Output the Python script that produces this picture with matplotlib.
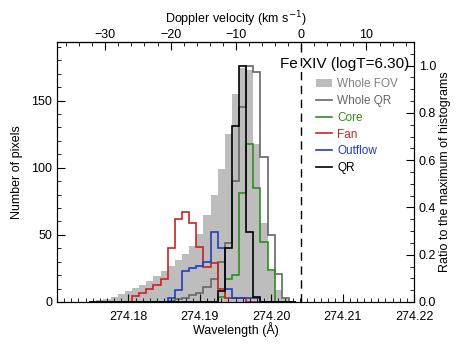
import numpy as np
import matplotlib
matplotlib.use('Agg')
import matplotlib.pyplot as plt
from matplotlib.patches import Patch
from matplotlib.lines import Line2D
from matplotlib.ticker import MultipleLocator

plt.rcParams['font.family'] = ['Liberation Sans', 'DejaVu Sans']
plt.rcParams['font.size'] = 9

# histogram bins (Angstrom): first bin starts at 274.1745, width 0.001
bin_start = 274.1745
bin_width = 0.001
rest_wave = 274.2042  # zero Doppler velocity
c_kms = 299792.458

# counts per bin, first bin = 274.175
whole_fov = [1, 1.5, 2.5, 4, 6, 8, 10.5, 13, 16, 19, 23, 27, 31, 36, 42, 51, 65, 80, 99,
             125, 155, 174, 173, 118, 59, 23, 9, 2, 0.5]
whole_qr = [0, 0, 0, 0, 0, 0, 0, 0, 0, 0, 0, 1, 2, 3, 5, 7, 11, 17, 30,
            44, 90, 145, 176, 171, 108, 50, 21, 3, 0]
core = [0, 0, 0, 0, 0, 0, 0, 0, 0, 0, 0, 0, 0, 0, 0, 0, 0, 0, 4,
        17, 20, 81, 118, 85, 45, 24, 0, 0, 0]
fan = [0, 0, 0, 0, 0, 0, 4.5, 7, 9.5, 13, 17, 40, 62, 67, 59, 41, 26, 29, 10,
       3, 3, 3, 0, 0, 0, 0, 0, 0, 0]
outflow = [0, 0, 0, 0, 0, 0, 0, 0, 0, 0, 0, 3, 9, 23, 25, 27, 30, 52, 40,
           10, 3, 3, 3, 3, 0, 0, 0, 0, 0]
qr = [0, 0, 0, 0, 0, 0, 0, 0, 0, 0, 0, 0, 0, 0, 0, 0, 0, 0, 8,
      40, 131, 176, 52, 4, 0, 0, 0, 0, 0]

edges = bin_start + bin_width * np.arange(len(whole_fov) + 1)
ymax = 1.1 * max(max(whole_fov), max(whole_qr), max(qr))

fig = plt.figure(figsize=(4.58, 3.44), dpi=100)
ax = fig.add_axes([57 / 458, 1 - 302 / 344, 357 / 458, 260 / 344])

ax.stairs(whole_fov, edges, fill=True, color='#bdbdbd', lw=0)
ax.stairs(whole_qr, edges, color='#666666', lw=1.2)
ax.stairs(core, edges, color='#2f8f1c', lw=1.2)
ax.stairs(fan, edges, color='#cc2222', lw=1.2)
ax.stairs(outflow, edges, color='#1f3fbf', lw=1.2)
ax.stairs(qr, edges, color='black', lw=1.2)
ax.axvline(rest_wave, color='black', ls=(0, (6, 4)), lw=1)

ax.set_xlim(274.17, 274.22)
ax.set_ylim(0, ymax)
ax.set_xticks([274.18, 274.19, 274.20, 274.21, 274.22])
ax.set_xticklabels(['274.18', '274.19', '274.20', '274.21', '274.22'])
ax.xaxis.set_minor_locator(MultipleLocator(0.001))
ax.yaxis.set_major_locator(MultipleLocator(50))
ax.yaxis.set_minor_locator(MultipleLocator(10))
ax.set_xlabel('Wavelength (Å)', labelpad=-1)
ax.set_ylabel('Number of pixels', labelpad=6)
ax.tick_params(which='both', direction='in', top=False, right=False)
ax.tick_params(which='major', length=6)
ax.tick_params(which='minor', length=3)
ax.tick_params(axis='x', which='both', pad=6.5)

# right axis: ratio to maximum
ax2 = ax.twinx()
ax2.set_ylim(0, ymax / max(whole_qr))
ax2.yaxis.set_major_locator(MultipleLocator(0.2))
ax2.yaxis.set_minor_locator(MultipleLocator(0.05))
ax2.yaxis.set_major_formatter(matplotlib.ticker.FormatStrFormatter('%.1f'))
ax2.set_ylabel('Ratio to the maximum of histograms', labelpad=2)
ax2.tick_params(which='both', direction='in')
ax2.tick_params(which='major', length=6)
ax2.tick_params(which='minor', length=3)

# top axis: Doppler velocity
top = ax.secondary_xaxis('top', functions=(lambda w: (w - rest_wave) / rest_wave * c_kms,
                                           lambda v: rest_wave * (1 + v / c_kms)))
top.xaxis.set_major_locator(MultipleLocator(10))
top.xaxis.set_minor_locator(MultipleLocator(2))
top.tick_params(which='both', direction='in', pad=1)
top.tick_params(which='major', length=6)
top.tick_params(which='minor', length=3)
top.set_xlabel('Doppler velocity (km s$^{-1}$)', labelpad=4)

ax.text(0.986, 0.915, 'Fe XIV (logT=6.30)', transform=ax.transAxes,
        ha='right', va='center', fontsize=11)

handles = [Patch(facecolor='#bdbdbd', edgecolor='none'),
           Line2D([], [], color='#666666', lw=1.2),
           Line2D([], [], color='#2f8f1c', lw=1.2),
           Line2D([], [], color='#cc2222', lw=1.2),
           Line2D([], [], color='#1f3fbf', lw=1.2),
           Line2D([], [], color='black', lw=1.2)]
labels = ['Whole FOV', 'Whole QR', 'Core', 'Fan', 'Outflow', 'QR']
ax.legend(handles, labels, loc='upper left', bbox_to_anchor=(0.725, 0.86),
          frameon=False, fontsize=8.5, handlelength=1.4, handletextpad=0.4,
          labelspacing=0.4, borderpad=0, borderaxespad=0,
          labelcolor=['#808080', '#666666', '#2f8f1c', '#cc2222', '#1f3fbf', 'black'])

fig.savefig('out.png', dpi=100)
